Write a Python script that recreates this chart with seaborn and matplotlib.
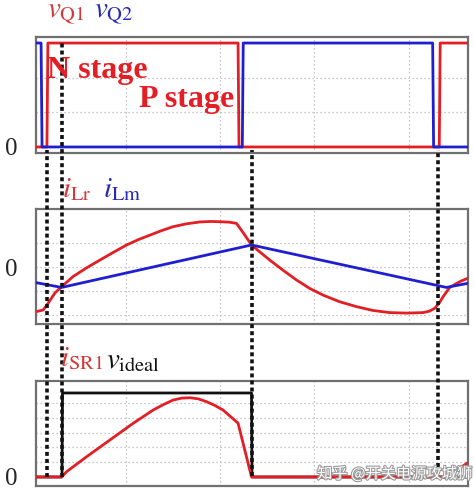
import numpy as np
import pandas as pd
import seaborn as sns
import matplotlib
matplotlib.use("Agg")
import matplotlib.pyplot as plt
import matplotlib.patheffects as pe

# ---------------- data ----------------
# panel 1: gate signals (normalised)
t_vq1 = [0.046, 0.162, 0.172, 2.19, 2.20, 4.325, 4.335, 4.63]
v_q1 = [0, 0, 1, 1, 0, 0, 1, 1]
t_vq2 = [0.046, 0.100, 0.110, 2.235, 2.245, 4.255, 4.265, 4.63]
v_q2 = [1, 1, 0, 0, 1, 1, 0, 0]

# panel 2: resonant / magnetising currents
t_ilr = [0.046, 0.123, 0.176, 0.247, 0.318, 0.438, 0.58, 0.724, 0.87, 1.007, 1.13, 1.254,
         1.38, 1.498, 1.64, 1.785, 1.90, 1.997, 2.10, 2.174, 2.25, 2.333, 2.43, 2.527,
         2.67, 2.81, 2.95, 3.092, 3.27, 3.446, 3.62, 3.80, 3.98, 4.153, 4.22, 4.277,
         4.325, 4.365, 4.436, 4.542, 4.627]
i_lr = [-1.86, -1.79, -1.50, -1.08, -0.82, -0.40, -0.04, 0.29, 0.62, 0.92, 1.14, 1.33,
        1.52, 1.68, 1.80, 1.88, 1.90, 1.89, 1.87, 1.82, 1.40, 0.92, 0.60, 0.29,
        -0.14, -0.54, -0.89, -1.17, -1.45, -1.65, -1.81, -1.90, -1.92, -1.90, -1.84, -1.72,
        -1.50, -1.24, -0.85, -0.61, -0.47]
t_ilm = [0.046, 0.318, 2.333, 4.40, 4.627]
i_lm = [-0.65, -0.85, 0.92, -0.85, -0.68]

# panel 3: SR current and ideal gate
t_isr = [0.046, 0.318, 0.371, 0.583, 0.83, 1.077, 1.29, 1.40, 1.50, 1.59, 1.68, 1.77,
         1.856, 1.94, 2.03, 2.19, 2.333, 2.40, 4.38, 4.45, 4.627]
i_sr = [0, 0, 0.36, 1.37, 2.50, 3.63, 4.53, 4.90, 5.20, 5.33, 5.36, 5.28,
        5.09, 4.85, 4.53, 3.64, 0.0, 0.0, 0.0, 0.2, 0.96]
t_vid = [0.046, 0.322, 0.327, 2.333, 2.338, 4.627]
v_id = [0, 0, 5.68, 5.68, 0, 0]

event_t = [0.162, 0.327, 2.336, 4.309]
stage_labels = ["N stage", "P stage"]

# ---------------- style ----------------
sns.set_style("white")
plt.rcParams["font.family"] = ["Liberation Serif", "DejaVu Serif"]
plt.rcParams["mathtext.fontset"] = "stix"

RED = "#e31e24"
BLUE = "#1f1fd0"
BLACK = "#111111"
FRAME = "#707070"
GRID = "#b5b5b5"

fig = plt.figure(figsize=(4.74, 4.93), dpi=100)
L, W = 36 / 474, 432 / 474
ax1 = fig.add_axes([L, 1 - 153 / 493, W, 116 / 493])
ax2 = fig.add_axes([L, 1 - 324 / 493, W, 115 / 493])
ax3 = fig.add_axes([L, 1 - 486 / 493, W, 105 / 493])
XL = (0.046, 4.63)

def style(ax, ylim, hgrid):
    ax.set_xlim(*XL)
    ax.set_ylim(*ylim)
    for v in [1, 2, 3, 4]:
        ax.axvline(v, color=GRID, lw=0.9, ls=(0, (1, 2.2)), zorder=0)
    for h in hgrid:
        ax.axhline(h, color=GRID, lw=0.9, ls=(0, (1, 2.2)), zorder=0)
    ax.set_xticks([])
    ax.set_yticks([0])
    ax.set_yticklabels(["0"], fontsize=18)
    ax.tick_params(axis="y", length=0, pad=13)
    ax.set_xlabel("")
    ax.set_ylabel("")
    for s in ax.spines.values():
        s.set_color(FRAME)
        s.set_linewidth(1.6)

def line(ax, t, y, color, lw=2.0, z=3):
    df = pd.DataFrame({"t": t, "y": y})
    sns.lineplot(data=df, x="t", y="y", ax=ax, color=color, lw=lw,
                 sort=False, estimator=None, zorder=z)

line(ax1, t_vq1, v_q1, RED, z=3)
line(ax1, t_vq2, v_q2, BLUE, z=4)
style(ax1, (-0.058, 1.058), [1 / 3, 2 / 3])

line(ax2, t_ilr, i_lr, RED, z=3)
line(ax2, t_ilm, i_lm, BLUE, z=4)
style(ax2, (-2.375, 2.42), [-2, -1, 0, 1])

line(ax3, t_vid, v_id, BLACK, z=3)
line(ax3, t_isr, i_sr, RED, z=4)
style(ax3, (-0.61, 6.49), [1, 2, 3, 4, 5])

# dashed event lines across panels (figure-fraction y)
ov = fig.add_axes([L, 0, W, 1])
ov.set_xlim(*XL)
ov.set_ylim(0, 1)
ov.axis("off")
ov.patch.set_alpha(0)
y_top = [1 - 150 / 493, 1 - 43 / 493, 1 - 150 / 493, 1 - 150 / 493]
y_bot = [1 - 477 / 493, 1 - 477 / 493, 1 - 476 / 493, 1 - 467 / 493]
for t, a, b in zip(event_t, y_top, y_bot):
    ov.plot([t, t], [b, a], color=BLACK, lw=2.6, ls=(0, (1.1, 0.85)),
            solid_capstyle="butt", dash_capstyle="butt")

# stage labels
fig.text(47 / 474, 1 - 78 / 493, stage_labels[0], color=RED, fontsize=23,
         fontweight="bold", va="baseline", ha="left")
fig.text(139 / 474, 1 - 107 / 493, stage_labels[1], color=RED, fontsize=23,
         fontweight="bold", va="baseline", ha="left")

# signal labels
fs = 21
fig.text(47 / 474, 1 - 17 / 493, r"$v_{\mathrm{Q1}}$", color="#d23a3a", fontsize=fs, va="baseline")
fig.text(94 / 474, 1 - 17 / 493, r"$v_{\mathrm{Q2}}$", color="#2a2ab0", fontsize=fs, va="baseline")
fig.text(62 / 474, 1 - 197 / 493, r"$i_{\mathrm{Lr}}$", color="#d23a3a", fontsize=fs, va="baseline")
fig.text(103 / 474, 1 - 197 / 493, r"$i_{\mathrm{Lm}}$", color="#2a2ab0", fontsize=fs, va="baseline")
fig.text(60 / 474, 1 - 366 / 493, r"$i_{\mathrm{SR1}}$", color="#d23a3a", fontsize=fs, va="baseline")
fig.text(106 / 474, 1 - 368 / 493, r"$v_{\mathrm{ideal}}$", color=BLACK, fontsize=fs, va="baseline")

# watermark
fig.text(317 / 474, 1 - 474 / 493, "知乎 @开关电源攻城狮", color="white", fontsize=11,
         family=["Noto Sans CJK SC", "DejaVu Sans"], va="center", ha="left",
         path_effects=[pe.withStroke(linewidth=1.6, foreground="#9a9a9a")], zorder=10)

fig.savefig("out.png", dpi=100)
